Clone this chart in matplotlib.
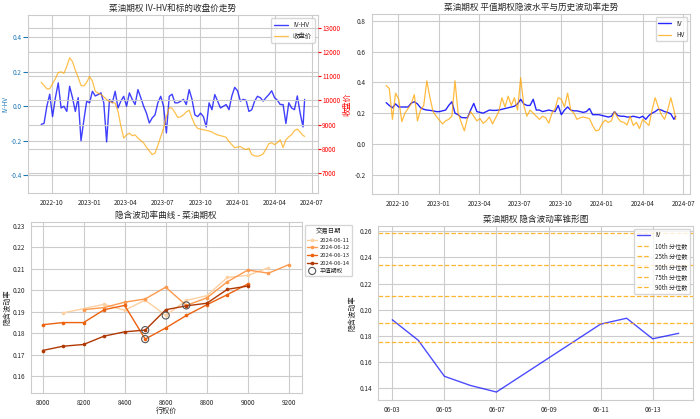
import matplotlib
matplotlib.use("Agg")
import matplotlib.pyplot as plt
import matplotlib.dates as mdates
import seaborn as sns
import numpy as np
import pandas as pd

sns.set_style("whitegrid")
plt.rcParams['font.family'] = ['Noto Sans CJK SC', 'DejaVu Sans']
plt.rcParams['axes.unicode_minus'] = False

# weekly samples, 2022-09-05 .. 2024-06-10, plus last trading day 2024-06-14
dates = list(pd.date_range('2022-09-05', '2024-06-10', freq='7D')) + [pd.Timestamp('2024-06-14')]

iv_hv = [-0.105, -0.10, 0.0, 0.07, -0.06, 0.05, 0.136, -0.01, 0.0, -0.03,
         0.116, 0.05, -0.03, 0.05, -0.20, -0.08, 0.03, 0.02, 0.087, 0.06,
         0.068, 0.078, 0.02, -0.207, 0.039, 0.02, 0.087, -0.01, 0.03, 0.058,
         0.0, 0.078, 0.04, 0.01, 0.097, 0.05, 0.0, -0.04, -0.097, -0.068,
         -0.05, 0.02, 0.058, 0.0, -0.155, 0.058, 0.07, 0.02, 0.02, 0.029,
         0.04, 0.01, 0.097, 0.04, -0.05, -0.06, -0.04, -0.06, -0.12, 0.02,
         -0.02, 0.068, 0.03, -0.01, 0.0, 0.01, -0.02, 0.06, 0.11, 0.09,
         0.03, 0.04, 0.035, -0.03, -0.02, 0.03, 0.058, 0.05, 0.03, 0.05,
         0.068, 0.09, 0.05, 0.035, 0.01, 0.01, -0.10, 0.02, -0.01, -0.02,
         0.06, -0.04, -0.12, 0.04]

close = [10750, 10620, 10480, 10480, 10700, 10900, 11150, 11180, 11120, 11400,
         11760, 11600, 11250, 10950, 10620, 10600, 10750, 10990, 10800, 10380,
         10300, 10250, 10150, 10040, 9950, 9920, 9890, 9550, 8950, 8450,
         8580, 8650, 8550, 8580, 8450, 8350, 8250, 8070, 7920, 7770,
         7830, 8150, 8500, 8860, 9330, 9700, 9680, 9500, 9300, 9330,
         9410, 9530, 9600, 9270, 9000, 8850, 8820, 8790, 8770, 8740,
         8700, 8630, 8580, 8550, 8520, 8480, 8300, 8180, 8050, 8080,
         8100, 8020, 7980, 8030, 7770, 7720, 7700, 7730, 7800, 8000,
         8220, 8260, 8180, 8260, 8380, 8060, 8380, 8500, 8590, 8760,
         8820, 8700, 8560, 8520]

atm_iv = [0.268, 0.25, 0.235, 0.26, 0.24, 0.24, 0.24, 0.24, 0.265, 0.274,
          0.26, 0.235, 0.225, 0.22, 0.218, 0.215, 0.21, 0.21, 0.215, 0.22,
          0.25, 0.274, 0.20, 0.19, 0.172, 0.17, 0.17, 0.22, 0.263, 0.21,
          0.205, 0.20, 0.21, 0.22, 0.218, 0.218, 0.22, 0.225, 0.23, 0.235,
          0.24, 0.245, 0.26, 0.29, 0.26, 0.25, 0.25, 0.29, 0.22, 0.22,
          0.21, 0.215, 0.22, 0.215, 0.21, 0.25, 0.19, 0.22, 0.24, 0.22,
          0.215, 0.215, 0.21, 0.205, 0.21, 0.23, 0.19, 0.19, 0.19, 0.185,
          0.18, 0.175, 0.18, 0.21, 0.185, 0.18, 0.18, 0.175, 0.175, 0.18,
          0.175, 0.17, 0.18, 0.16, 0.185, 0.20, 0.21, 0.225, 0.22, 0.21,
          0.205, 0.195, 0.16, 0.18]

hv = [0.38, 0.36, 0.16, 0.33, 0.29, 0.145, 0.20, 0.23, 0.26, 0.32,
      0.15, 0.22, 0.25, 0.41, 0.30, 0.21, 0.18, 0.155, 0.13, 0.15,
      0.16, 0.18, 0.41, 0.20, 0.14, 0.085, 0.17, 0.21, 0.18, 0.15,
      0.165, 0.134, 0.15, 0.175, 0.13, 0.17, 0.21, 0.30, 0.24, 0.31,
      0.25, 0.30, 0.22, 0.43, 0.25, 0.18, 0.22, 0.20, 0.18, 0.16,
      0.18, 0.17, 0.135, 0.20, 0.23, 0.30, 0.29, 0.24, 0.33, 0.22,
      0.20, 0.16, 0.17, 0.175, 0.17, 0.165, 0.12, 0.085, 0.09, 0.13,
      0.155, 0.14, 0.15, 0.21, 0.17, 0.145, 0.14, 0.123, 0.18, 0.12,
      0.14, 0.10, 0.16, 0.14, 0.12, 0.22, 0.30, 0.24, 0.19, 0.16,
      0.22, 0.30, 0.22, 0.16]

# smile curves
smile_dates = ['2024-06-11', '2024-06-12', '2024-06-13', '2024-06-14']
smile_strikes = {
    '2024-06-11': [8100, 8200, 8300, 8400, 8500, 8600, 8700, 8800, 8900, 9000, 9100],
    '2024-06-12': [8200, 8300, 8400, 8500, 8600, 8700, 8800, 8900, 9000, 9100, 9200],
    '2024-06-13': [8000, 8100, 8200, 8300, 8400, 8500, 8600, 8700, 8800, 8900, 9000],
    '2024-06-14': [8000, 8100, 8200, 8300, 8400, 8500, 8600, 8700, 8800, 8900, 9000],
}
smile_iv = {
    '2024-06-11': [0.1895, 0.1915, 0.1935, 0.1907, 0.1955, 0.1883, 0.1953, 0.1975, 0.206, 0.207, 0.2105],
    '2024-06-12': [0.191, 0.192, 0.1945, 0.196, 0.2015, 0.193, 0.1965, 0.204, 0.2095, 0.208, 0.212],
    '2024-06-13': [0.184, 0.185, 0.185, 0.191, 0.193, 0.1773, 0.1825, 0.1883, 0.1933, 0.198, 0.203],
    '2024-06-14': [0.172, 0.174, 0.1748, 0.1787, 0.1807, 0.1815, 0.191, 0.1928, 0.194, 0.2005, 0.202],
}
atm_strike = {'2024-06-11': 8600, '2024-06-12': 8700, '2024-06-13': 8500, '2024-06-14': 8500}

# volatility cone
cone_dates = pd.to_datetime(['2024-06-03', '2024-06-04', '2024-06-05', '2024-06-06', '2024-06-07',
                             '2024-06-11', '2024-06-12', '2024-06-13', '2024-06-14'])
cone_iv = [0.1923, 0.1766, 0.1492, 0.1422, 0.1372, 0.189, 0.1935, 0.1778, 0.182]
quantile_names = ['10th', '25th', '50th', '75th', '90th']
quantile_vals = [0.1753, 0.1898, 0.2104, 0.2339, 0.2585]

fs_title = 6.2
fs_tick = 4.6
fs_leg = 4.6

fig = plt.figure(figsize=(7, 4.19), dpi=100)

# --- top left: IV-HV and close
ax1 = fig.add_axes([0.040, 0.539, 0.414, 0.425])
l1, = ax1.plot(dates, iv_hv, color='blue', alpha=0.75, lw=1.0, label='IV-HV')
ax1.set_ylim(-0.505, 0.53)
ax1.set_yticks([-0.4, -0.2, 0.0, 0.2, 0.4])
ax1.set_ylabel('IV-HV', color='tab:blue', fontsize=fs_tick, labelpad=1)
ax1.tick_params(axis='y', colors='tab:blue', labelsize=fs_tick, pad=1)
ax1.tick_params(axis='x', labelsize=fs_tick, pad=1)
ax2 = ax1.twinx()
l2, = ax2.plot(dates, close, color='orange', alpha=0.7, lw=0.9, label='收盘价')
ax2.set_ylim(6180, 13520)
ax2.set_yticks(np.arange(7000, 13001, 1000))
ax2.set_ylabel('收盘价', color='red', fontsize=fs_tick + 1, labelpad=2)
ax2.tick_params(axis='y', colors='red', labelsize=fs_tick, pad=1, length=2)
for sp in ax2.spines.values():
    sp.set_visible(False)
ax1.xaxis.set_major_locator(mdates.MonthLocator(bymonth=[1, 4, 7, 10]))
ax1.xaxis.set_major_formatter(mdates.DateFormatter('%Y-%m'))
ax1.set_title('菜油期权 IV-HV和标的收盘价走势', fontsize=fs_title, pad=3)
ax1.legend([l1, l2], ['IV-HV', '收盘价'], loc='upper right', fontsize=fs_leg,
           handlelength=2.2)

# --- top right: IV vs HV
ax3 = fig.add_axes([0.531, 0.537, 0.455, 0.430])
ax3.plot(dates, atm_iv, color='blue', lw=1.0, alpha=0.85, label='IV')
ax3.plot(dates, hv, color='orange', lw=0.9, alpha=0.75, label='HV')
ax3.set_ylim(-0.325, 0.845)
ax3.set_yticks([-0.2, 0.0, 0.2, 0.4, 0.6, 0.8])
ax3.xaxis.set_major_locator(mdates.MonthLocator(bymonth=[1, 4, 7, 10]))
ax3.xaxis.set_major_formatter(mdates.DateFormatter('%Y-%m'))
ax3.tick_params(labelsize=fs_tick, pad=1)
ax3.set_title('菜油期权 平值期权隐波水平与历史波动率走势', fontsize=fs_title, pad=3)
ax3.legend(loc='upper right', fontsize=fs_leg)

# --- bottom left: smile
ax4 = fig.add_axes([0.044, 0.062, 0.387, 0.409])
colors = plt.cm.Oranges(np.linspace(0.25, 0.85, len(smile_dates)))
for d, c in zip(smile_dates, colors):
    ax4.plot(smile_strikes[d], smile_iv[d], color=c, lw=1.0, marker='o', ms=1.6, label=d)
for i, d in enumerate(smile_dates):
    k = atm_strike[d]
    v = smile_iv[d][smile_strikes[d].index(k)]
    ax4.scatter([k], [v], s=26, facecolors='none', edgecolors='#555555', lw=0.8,
                label='平值期权' if i == 0 else None, zorder=5)
ax4.set_xlim(7943, 9262)
ax4.set_ylim(0.1522, 0.232)
ax4.set_xticks(np.arange(8000, 9201, 200))
ax4.tick_params(labelsize=fs_tick, pad=0.5)
ax4.set_xlabel('行权价', fontsize=fs_tick + 0.5, labelpad=0.5)
ax4.set_ylabel('隐含波动率', fontsize=fs_tick + 0.5, labelpad=1)
ax4.set_title('隐含波动率曲线 - 菜油期权', fontsize=fs_title, pad=3)
ax4.legend(title='交易日期', loc='upper left', bbox_to_anchor=(1.002, 1.0),
           fontsize=fs_leg - 0.4, title_fontsize=fs_leg, handlelength=1.6,
           handletextpad=0.5, borderpad=0.4, labelspacing=0.45)

# --- bottom right: cone
ax5 = fig.add_axes([0.540, 0.045, 0.450, 0.416])
ax5.plot(cone_dates, cone_iv, color='blue', alpha=0.7, lw=1.0, label='IV')
for name, q in zip(quantile_names, quantile_vals):
    ax5.axhline(q, color='orange', ls='--', lw=0.9, alpha=0.8, label=f'{name} 分位数')
ax5.set_ylim(0.131, 0.264)
ax5.set_yticks(np.arange(0.14, 0.261, 0.02))
ax5.xaxis.set_major_locator(mdates.DayLocator(bymonthday=[3, 5, 7, 9, 11, 13]))
ax5.xaxis.set_major_formatter(mdates.DateFormatter('%m-%d'))
ax5.tick_params(labelsize=fs_tick, pad=0.5)
ax5.set_ylabel('隐含波动率', fontsize=fs_tick + 0.5, labelpad=2.5)
ax5.set_title('菜油期权 隐含波动率锥形图', fontsize=fs_title, pad=3)
ax5.legend(loc='upper right', fontsize=fs_leg - 0.2, handlelength=2.2,
           labelspacing=0.4)

fig.savefig('out.png', dpi=100)
